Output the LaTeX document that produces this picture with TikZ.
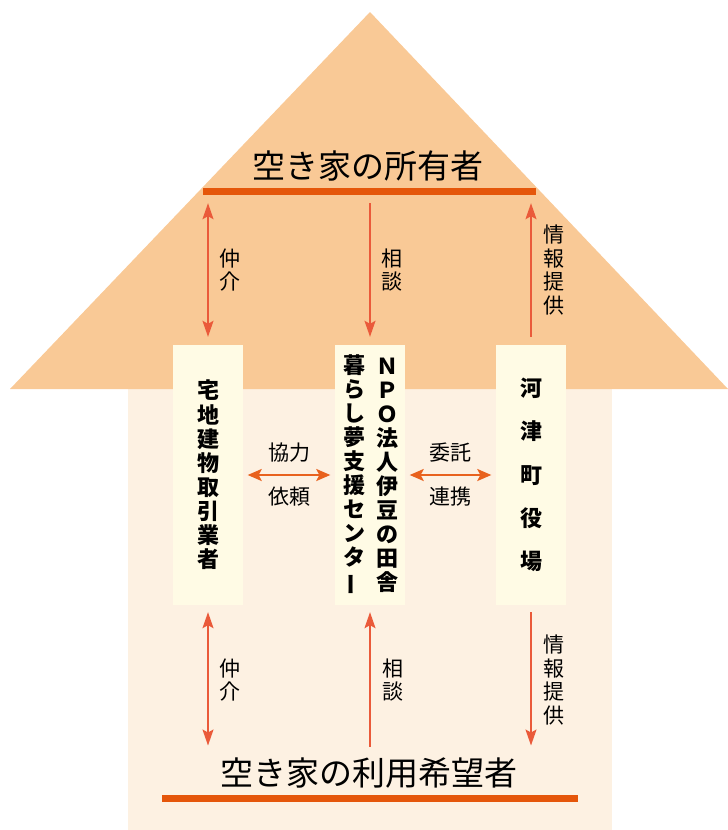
\documentclass[tikz,border=0pt]{standalone}
\usepackage{fontspec}
\usepackage{graphicx}
\setmainfont{Noto Sans CJK JP}
\usetikzlibrary{arrows.meta, positioning}

\definecolor{roofcol}{HTML}{F9C996}
\definecolor{bodycol}{HTML}{FDF1E2}
\definecolor{boxcol}{HTML}{FFFBE5}
\definecolor{barcol}{HTML}{E5560A}
\definecolor{arrcol}{HTML}{EA5A3A}
\definecolor{harrcol}{HTML}{E8621E}

\tikzset{
  box/.style={fill=boxcol, minimum width=70pt, minimum height=260pt, inner sep=0pt, align=center, font=\fontsize{22}{24.1}\selectfont\bfseries},
  coltext/.style={inner sep=0pt, align=center, font=\fontsize{22}{24}\selectfont\bfseries},
  lbl/.style={inner sep=0pt, align=center, font=\fontsize{21}{22.5}\selectfont},
  title/.style={inner sep=0pt, font=\fontsize{33}{33}\selectfont},
  bar/.style={fill=barcol, minimum height=7pt, inner sep=0pt},
  arr/.style={draw=arrcol, line width=1.8pt, >={Stealth[length=16pt, width=11pt, inset=3pt]}},
  harr/.style={draw=harrcol, line width=2pt, >={Stealth[length=14pt, width=12pt, inset=3pt]}, shorten >=4.5pt, shorten <=4.5pt}
}

\begin{document}
\begin{tikzpicture}[x=1pt, y=-1pt, node distance=162pt]
  \useasboundingbox (0,0) rectangle (728,830);
  % house
  \fill[bodycol] (128,388) rectangle (612,830);
  \fill[roofcol] (10,389) -- (370,12) -- (728,389) -- cycle;

  % owner / user
  \node[title] (owner) at (368,166) {空き家の所有者};
  \node[bar, minimum width=333pt] (ownerbar) at (369.5,191) {};
  \node[title] (user) at (369,773) {空き家の利用希望者};
  \node[bar, minimum width=416pt] (userbar) at (370,798) {};

  % the three parties
  \node[box] (lbox) at (208,475) {宅\\地\\建\\物\\取\\引\\業\\者};
  \node[box, right of=lbox] (mbox) {};
  \node[box, right of=mbox, xshift=-1pt, font=\fontsize{22}{43.3}\selectfont\bfseries] (rbox) {河\\津\\町\\役\\場};
  \node[coltext] (npo) at ([xshift=17pt]mbox.center) {Ｎ\\Ｐ\\Ｏ\\法\\人\\伊\\豆\\の\\田\\舎};
  \node[coltext] (center) at ([xshift=-16pt]mbox.center) {暮\\ら\\し\\夢\\支\\援\\セ\\ン\\タ\\\rotatebox[origin=c]{90}{ー}};

  % upper arrows
  \draw[arr, <->, shorten <=8.5pt, shorten >=8pt] (lbox.north |- ownerbar.south) -- (lbox.north);
  \draw[arr, ->, shorten <=8.5pt, shorten >=8pt] (mbox.north |- ownerbar.south) -- (mbox.north);
  \draw[arr, ->, shorten <=8pt, shorten >=8.5pt] (rbox.north) -- (rbox.north |- ownerbar.south);
  \node[lbl] (l1) at (230,270) {仲\\介};
  \node[lbl] (l2) at (392,270) {相\\談};
  \node[lbl, font=\fontsize{21}{23.8}\selectfont] (l3) at (554,270) {情\\報\\提\\供};

  % lower arrows
  \draw[arr, <->, shorten <=7pt, shorten >=12pt] (lbox.south) -- (lbox.south |- user.north);
  \draw[arr, ->, shorten <=11pt, shorten >=7pt] (mbox.south |- user.north) -- (mbox.south);
  \draw[arr, ->, shorten <=7pt, shorten >=12pt] (rbox.south) -- (rbox.south |- user.north);
  \node[lbl] (l4) at (230,680) {仲\\介};
  \node[lbl] (l5) at (393,680) {相\\談};
  \node[lbl, font=\fontsize{21}{23.8}\selectfont] (l6) at (554,680) {情\\報\\提\\供};

  % between the boxes
  \draw[harr, <->] (lbox.east) -- (mbox.west);
  \draw[harr, <->] (mbox.east) -- (rbox.west);
  \node[lbl] (h1) at (289,453) {協力};
  \node[lbl] (h2) at (289,497) {依頼};
  \node[lbl] (h3) at (450,453) {委託};
  \node[lbl] (h4) at (450,497) {連携};
\end{tikzpicture}
\end{document}
